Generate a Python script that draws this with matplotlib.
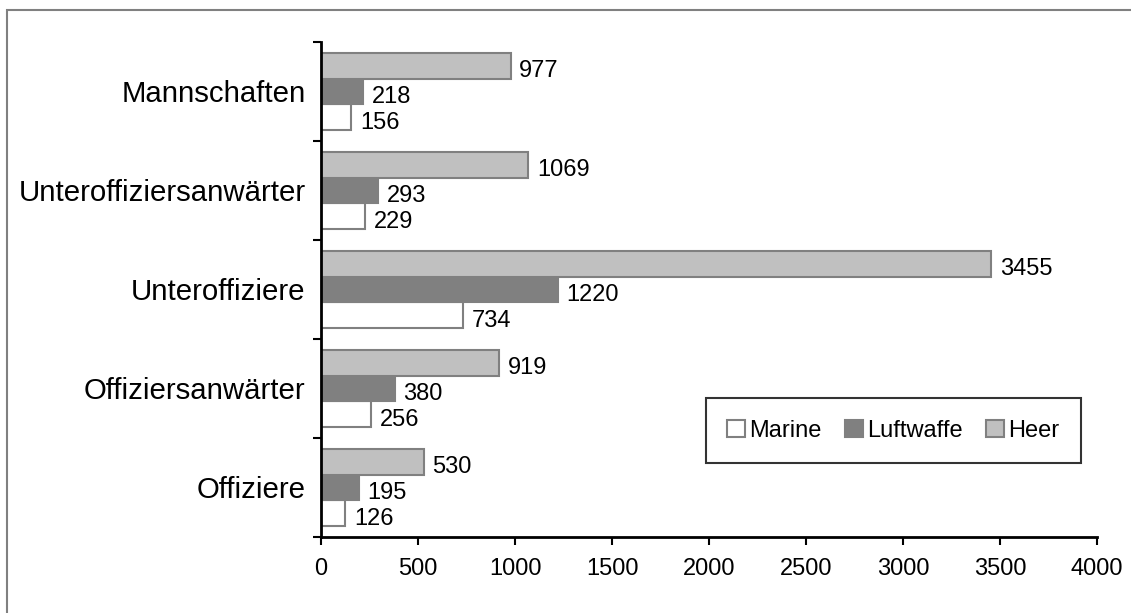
import numpy as np
import matplotlib
matplotlib.use('Agg')
import matplotlib.pyplot as plt
from matplotlib.patches import Rectangle

plt.rcParams['font.family'] = ['Liberation Sans', 'DejaVu Sans']

# DATA (bottom to top, like the chart)
categories = ['Offiziere', 'Offiziersanwärter', 'Unteroffiziere',
              'Unteroffiziersanwärter', 'Mannschaften']
marine = [126, 256, 734, 229, 156]
luftwaffe = [195, 380, 1220, 293, 218]
heer = [530, 919, 3455, 1069, 977]

series = [('Marine', marine, 'white'),
          ('Luftwaffe', luftwaffe, '#808080'),
          ('Heer', heer, '#c0c0c0')]

fig = plt.figure(figsize=(11.31, 6.13), dpi=100)
ax = fig.add_axes([0.2838, 0.124, 0.6862, 0.8075])

# outer frame (only top and left edge are visible in the original)
fig.patches.append(Rectangle((7 / 1131, -0.5), 2.0, 1.5 - 10 / 613,
                             transform=fig.transFigure, fill=False,
                             edgecolor='#808080', linewidth=1.5))

y = np.arange(len(categories))
h = 0.262
for i, (name, vals, col) in enumerate(series):
    pos = y + (i - 1) * h
    ax.barh(pos, vals, height=h, color=col, edgecolor='#808080',
            linewidth=1.5, label=name)
    for p, v in zip(pos, vals):
        ax.text(v + 45, p - 0.06, str(v), va='center', ha='left', fontsize=17)

ax.set_xlim(0, 4000)
ax.set_ylim(-0.5, len(categories) - 0.5)
ax.set_xticks(np.arange(0, 4001, 500))
ax.tick_params(axis='x', labelsize=17, length=6, width=1.5, pad=9)

# category ticks at group borders, labels in middle
ax.set_yticks(np.arange(-0.5, len(categories), 1.0))
ax.set_yticklabels([])
ax.set_yticks(y, minor=True)
ax.set_yticklabels(categories, minor=True, fontsize=21.2)
ax.tick_params(axis='y', which='major', length=6, width=1.5)
ax.tick_params(axis='y', which='minor', length=0, pad=11)

for s in ['top', 'right']:
    ax.spines[s].set_visible(False)
ax.spines['left'].set_linewidth(2)
ax.spines['bottom'].set_linewidth(2)

leg = ax.legend(loc='lower left', bbox_to_anchor=(0.496, 0.1495, 0.483, 0.1515),
                mode='expand', ncol=3, fontsize=17, frameon=True, fancybox=False,
                handlelength=0.75, handleheight=0.75, handletextpad=0.2,
                columnspacing=0.6, borderaxespad=0, borderpad=0.9)
leg.get_frame().set_edgecolor('black')
leg.get_frame().set_linewidth(1.5)

plt.savefig('out.png', dpi=100)
